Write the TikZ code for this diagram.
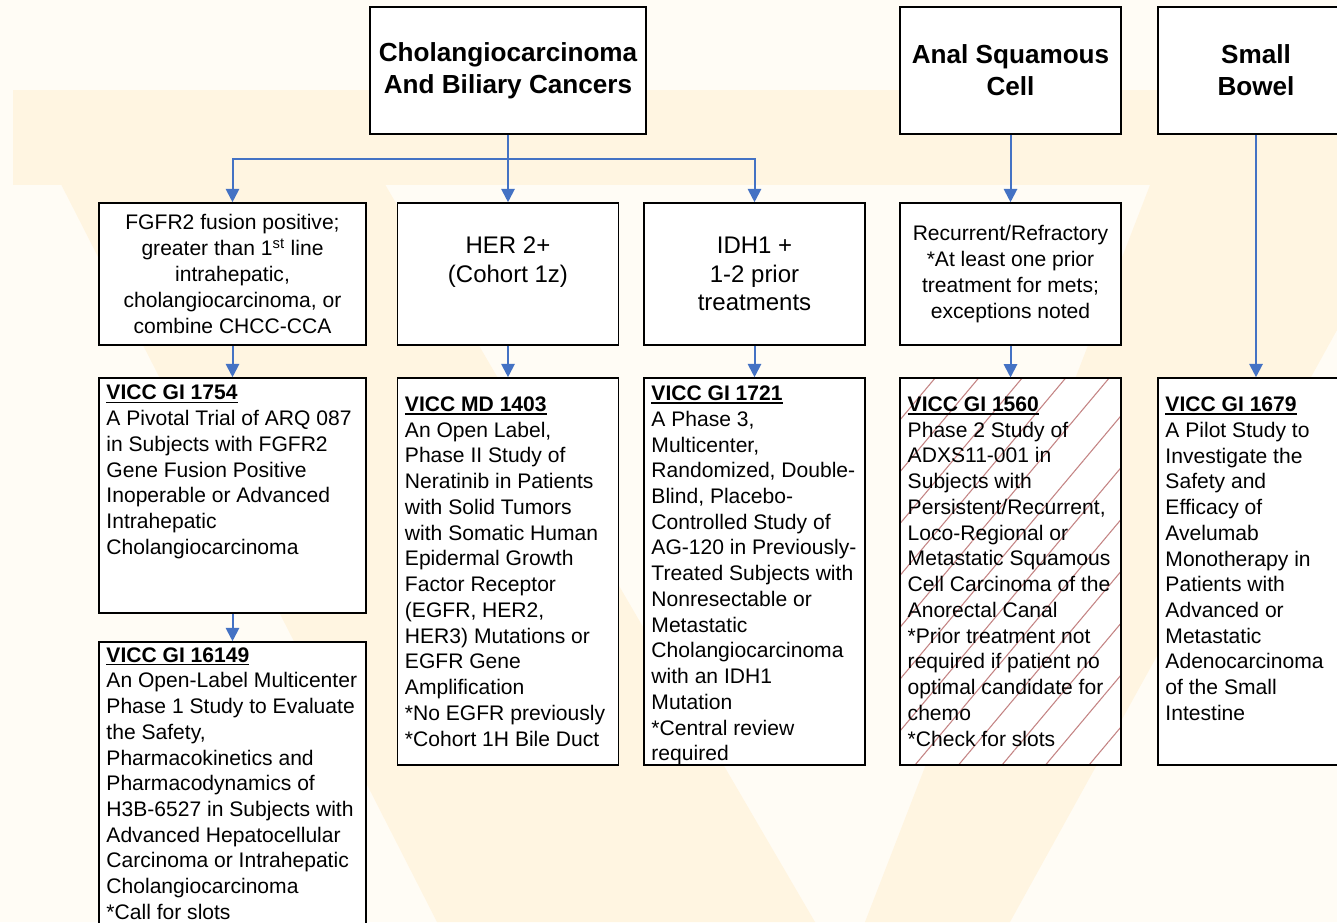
\documentclass[tikz,border=0pt]{standalone}
\usepackage{fontspec}
\setmainfont{Liberation Sans}
\usepackage{tikz}
\usetikzlibrary{arrows.meta}
\usetikzlibrary{patterns.meta}

\definecolor{linkblue}{RGB}{68,114,196}
\definecolor{bgcream}{RGB}{255,252,245}
\definecolor{wmark}{RGB}{255,245,225}
\definecolor{hatchred}{RGB}{196,132,132}

\newsavebox{\idbox}
\newcommand{\trialid}[1]{\sbox{\idbox}{\textbf{#1}}\rlap{\rule[-2.3pt]{\wd\idbox}{1.1pt}}\usebox{\idbox}}

\begin{document}
\begin{tikzpicture}[x=0.75pt, y=-0.75pt,
    box/.style={draw=black, line width=1.2pt, fill=white, inner sep=0pt},
    title/.style={box, align=center, minimum height=127*0.75pt,
        font=\fontsize{19.6}{24}\selectfont\bfseries},
    crit/.style={box, align=center, minimum height=142*0.75pt,
        font=\fontsize{15.8}{19.5}\selectfont},
    critbig/.style={crit, font=\fontsize{18}{21.4}\selectfont},
    trial/.style={box},
    body/.style={anchor=west, align=left, inner sep=0pt, xshift=8*0.75pt,
        font=\fontsize{15.8}{19.3}\selectfont},
    link/.style={draw=linkblue, line width=1.5pt, -{Triangle[length=10pt,width=10pt]}}]

    \useasboundingbox (0,0) rectangle (1337,922);
    \fill[bgcream] (0,0) rectangle (1337,922);

    % faint watermark behind the chart
    \fill[wmark] (13,90) rectangle (1337,185);
    \fill[wmark] (13,90) -- (330,90) -- (815,922) -- (437,922) -- cycle;
    \fill[wmark] (1150,185) -- (1337,185) -- (1337,330) -- (1010,922) -- (865,922) -- cycle;

    % top row
    \node[title, minimum width=276*0.75pt] (chol) at (508,70.5) {Cholangiocarcinoma\\And Biliary Cancers};
    \node[title, minimum width=221*0.75pt] (anal) at (1010.5,70.5) {Anal Squamous\\Cell};
    \node[title, minimum width=196*0.75pt] (bowel) at (1256,70.5) {Small\\Bowel};

    % criteria row
    \node[crit, minimum width=267*0.75pt] (fgfr) at (232.5,274)
        {FGFR2 fusion positive;\\greater than 1\textsuperscript{st} line\\intrahepatic,\\cholangiocarcinoma, or\\combine CHCC-CCA};
    \node[critbig, minimum width=221*0.75pt] (her) at (508,274) {HER 2+\\(Cohort 1z)\\~};
    \node[critbig, minimum width=221*0.75pt] (idh) at (754.5,274) {IDH1 +\\1-2 prior\\treatments};
    \node[crit, minimum width=221*0.75pt] (recur) at (1010.5,274)
        {Recurrent/Refractory\\*At least one prior\\treatment for mets;\\exceptions noted};

    % trial boxes
    \node[trial, minimum width=267*0.75pt, minimum height=235*0.75pt] (t1754) at (232.5,495.5) {};
    \node[trial, minimum width=221*0.75pt, minimum height=387*0.75pt] (t1403) at (508,571.5) {};
    \node[trial, minimum width=221*0.75pt, minimum height=387*0.75pt] (t1721) at (754.5,571.5) {};
    \node[trial, minimum width=221*0.75pt, minimum height=387*0.75pt,
        preaction={fill=white}, pattern={Lines[angle=50,distance=25pt,line width=0.8pt]},
        pattern color=hatchred] (t1560) at (1010.5,571.5) {};
    \node[trial, minimum width=196*0.75pt, minimum height=387*0.75pt] (t1679) at (1256,571.5) {};
    \node[trial, minimum width=267*0.75pt, minimum height=283*0.75pt] (t16149) at (232.5,783.5) {};

    \node[body] (t1754txt) at (t1754.west) {\trialid{VICC GI 1754}\\A Pivotal Trial of ARQ 087\\in Subjects with FGFR2\\Gene Fusion Positive\\Inoperable or Advanced\\Intrahepatic\\Cholangiocarcinoma\\~\\~};
    \node[body] (t1403txt) at (t1403.west) {\trialid{VICC MD 1403}\\An Open Label,\\Phase II Study of\\Neratinib in Patients\\with Solid Tumors\\with Somatic Human\\Epidermal Growth\\Factor Receptor\\(EGFR, HER2,\\HER3) Mutations or\\EGFR Gene\\Amplification\\*No EGFR previously\\*Cohort 1H Bile Duct};
    \node[body] (t1721txt) at ([yshift=-3pt]t1721.west) {\trialid{VICC GI 1721}\\A Phase 3,\\Multicenter,\\Randomized, Double-\\Blind, Placebo-\\Controlled Study of\\AG-120 in Previously-\\Treated Subjects with\\Nonresectable or\\Metastatic\\Cholangiocarcinoma\\with an IDH1\\Mutation\\*Central review\\required};
    \node[body] (t1560txt) at (t1560.west) {\trialid{VICC GI 1560}\\Phase 2 Study of\\ADXS11-001 in\\Subjects with\\Persistent/Recurrent,\\Loco-Regional or\\Metastatic Squamous\\Cell Carcinoma of the\\Anorectal Canal\\*Prior treatment not\\required if patient no\\optimal candidate for\\chemo\\*Check for slots};
    \node[body] (t1679txt) at (t1679.west) {\trialid{VICC GI 1679}\\A Pilot Study to\\Investigate the\\Safety and\\Efficacy of\\Avelumab\\Monotherapy in\\Patients with\\Advanced or\\Metastatic\\Adenocarcinoma\\of the Small\\Intestine\\~};
    \node[body] (t16149txt) at (t16149.west) {\trialid{VICC GI 16149}\\An Open-Label Multicenter\\Phase 1 Study to Evaluate\\the Safety,\\Pharmacokinetics and\\Pharmacodynamics of\\H3B-6527 in Subjects with\\Advanced Hepatocellular\\Carcinoma or Intrahepatic\\Cholangiocarcinoma\\*Call for slots};

    % connectors
    \draw[link] (chol.south) -- ++(0,24) -| (fgfr.north);
    \draw[link] (chol.south) -- ++(0,24) -| (idh.north);
    \foreach \from/\to in {chol/her, anal/recur, bowel/t1679, fgfr/t1754, her/t1403,
        idh/t1721, recur/t1560, t1754/t16149}
        \draw[link] (\from.south) -- (\to.north);
\end{tikzpicture}
\end{document}
